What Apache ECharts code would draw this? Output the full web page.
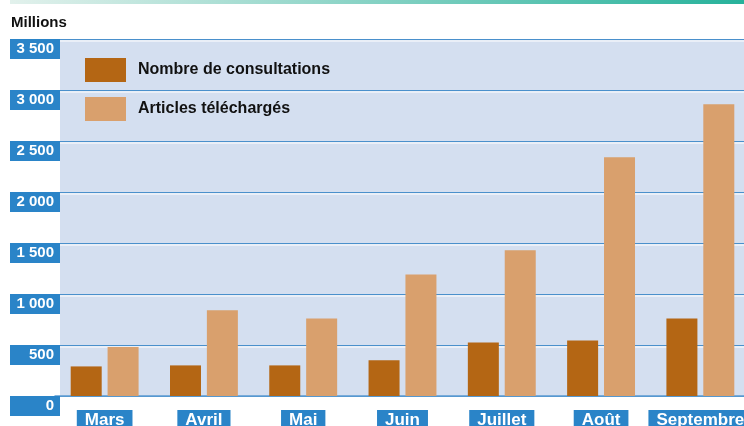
<!DOCTYPE html>
<html>
<head>
<meta charset="utf-8">
<style>
  html, body { margin: 0; padding: 0; background: #fff; }
  #chart { width: 744px; height: 426px; }
</style>
<script src="https://cdn.jsdelivr.net/npm/echarts@6/dist/echarts.min.js"></script>
</head>
<body>
<div id="chart"></div>
<script>
// données (millions)
var mois = ['Mars', 'Avril', 'Mai', 'Juin', 'Juillet', 'Août', 'Septembre'];
var consultations = [290, 300, 300, 350, 525, 545, 760];
var telecharges = [480, 840, 760, 1190, 1430, 2340, 2860];
var nomsSeries = ['Nombre de consultations', 'Articles téléchargés'];

var bleu = '#2a84c8';
var myChart = echarts.init(document.getElementById('chart'));

var option = {
    animation: false,
    textStyle: { fontFamily: 'Liberation Sans, Arial, sans-serif' },
    title: {
        text: 'Millions',
        left: 6,
        top: 10,
        textStyle: { fontSize: 15, fontWeight: 'bold', color: '#111' }
    },
    graphic: [
        {
            type: 'rect',
            z: -10,
            shape: { x: 10, y: 0, width: 734, height: 4 },
            style: {
                fill: new echarts.graphic.LinearGradient(0, 0, 1, 0, [
                    { offset: 0, color: '#e2f1ec' },
                    { offset: 1, color: '#27b29b' }
                ])
            }
        },
        {
            type: 'rect',
            z: -10,
            shape: { x: 60, y: 39, width: 684, height: 357 },
            style: { fill: '#d4dff0' }
        }
    ],
    legend: {
        orient: 'vertical',
        left: 80,
        top: 53,
        itemWidth: 41,
        itemHeight: 24,
        itemGap: 15,
        icon: 'rect',
        data: nomsSeries,
        textStyle: { fontSize: 16, fontWeight: 'bold', color: '#111', padding: [0, 0, 0, 7] }
    },
    grid: { left: 55, right: -6, top: 39, bottom: 30, outerBoundsMode: 'none', containLabel: false },
    xAxis: {
        type: 'category',
        data: mois,
        axisTick: { show: false },
        axisLine: { show: true, lineStyle: { color: '#5b9bd1', width: 1.5 } },
        axisLabel: {
            interval: 0,
            margin: 14,
            color: '#fff',
            fontSize: 17,
            fontWeight: 'bold',
            backgroundColor: bleu,
            padding: [2, 8, 4, 8]
        }
    },
    yAxis: {
        type: 'value',
        min: 0,
        max: 3500,
        interval: 500,
        offset: -5,
        axisLine: { show: false },
        axisTick: { show: false },
        splitLine: {
            lineStyle: {
                color: '#4a90cc',
                width: 1,
                shadowColor: '#ffffff',
                shadowOffsetY: 1.5,
                shadowBlur: 0
            }
        },
        axisLabel: {
            margin: 0,
            color: '#fff',
            fontSize: 15,
            fontWeight: 'bold',
            verticalAlign: 'top',
            align: 'right',
            width: 44,
            lineHeight: 16,
            backgroundColor: bleu,
            padding: [2, 6, 2, 0],
            formatter: function (v) {
                return String(v).replace(/\B(?=(\d{3})+(?!\d))/g, ' ');
            }
        }
    },
    series: [
        {
            name: nomsSeries[0],
            type: 'bar',
            barWidth: 31,
            barGap: '19%',
            itemStyle: { color: '#b46614' },
            data: consultations
        },
        {
            name: nomsSeries[1],
            type: 'bar',
            barWidth: 31,
            itemStyle: { color: '#d9a06d' },
            data: telecharges
        }
    ]
};
myChart.setOption(option);
</script>
</body>
</html>
